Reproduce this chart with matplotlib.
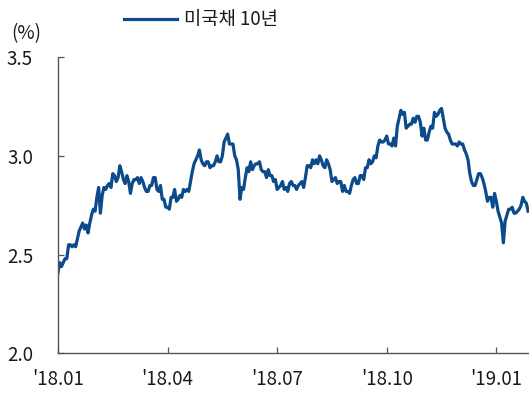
import numpy as np
import matplotlib.pyplot as plt
from matplotlib.ticker import FormatStrFormatter

plt.rcParams['font.family'] = ['Noto Sans CJK KR', 'DejaVu Sans']

# 미국채 10년 금리 (%), 영업일 기준
dec17 = [2.41]
jan18 = [2.46, 2.44, 2.46, 2.48, 2.48, 2.55, 2.55, 2.54, 2.55, 2.54, 2.58,
         2.62, 2.64, 2.66, 2.63, 2.65, 2.61, 2.66, 2.70, 2.73, 2.72]
feb18 = [2.79, 2.84, 2.71, 2.80, 2.84, 2.83, 2.85, 2.86, 2.84, 2.91, 2.90,
         2.87, 2.89, 2.95, 2.92, 2.88, 2.86, 2.90, 2.87]
mar18 = [2.81, 2.86, 2.88, 2.88, 2.89, 2.86, 2.89, 2.87, 2.84, 2.82, 2.82,
         2.85, 2.85, 2.89, 2.89, 2.83, 2.82, 2.85, 2.78, 2.78, 2.74, 2.74]
apr18 = [2.73, 2.79, 2.79, 2.83, 2.77, 2.78, 2.80, 2.79, 2.83, 2.82, 2.83,
         2.82, 2.87, 2.92, 2.96, 2.98, 3.00, 3.03, 2.98, 2.96, 2.95]
may18 = [2.97, 2.97, 2.94, 2.95, 2.95, 2.97, 3.00, 2.97, 2.97, 3.00, 3.07,
         3.09, 3.11, 3.06, 3.06, 3.06, 3.00, 2.98, 2.93, 2.78, 2.84, 2.83]
jun18 = [2.89, 2.94, 2.92, 2.97, 2.93, 2.95, 2.96, 2.96, 2.97, 2.93, 2.92,
         2.92, 2.89, 2.93, 2.90, 2.90, 2.87, 2.88, 2.83, 2.84, 2.85]
jul18 = [2.87, 2.83, 2.84, 2.82, 2.86, 2.87, 2.85, 2.85, 2.83, 2.85, 2.86,
         2.87, 2.84, 2.89, 2.95, 2.95, 2.94, 2.98, 2.96, 2.98, 2.96]
aug18 = [3.00, 2.98, 2.95, 2.94, 2.98, 2.96, 2.93, 2.87, 2.88, 2.89, 2.86,
         2.87, 2.87, 2.82, 2.85, 2.82, 2.82, 2.81, 2.85, 2.88, 2.89, 2.86, 2.86]
sep18 = [2.90, 2.90, 2.88, 2.94, 2.94, 2.98, 2.96, 2.97, 3.00, 2.99, 3.05,
         3.08, 3.07, 3.07, 3.08, 3.10, 3.06, 3.06, 3.05]
oct18 = [3.09, 3.05, 3.15, 3.19, 3.23, 3.21, 3.22, 3.14, 3.15, 3.16, 3.16,
         3.19, 3.17, 3.20, 3.20, 3.17, 3.10, 3.14, 3.08, 3.08, 3.12, 3.15]
nov18 = [3.14, 3.22, 3.20, 3.21, 3.23, 3.24, 3.19, 3.14, 3.12, 3.11, 3.08,
         3.06, 3.06, 3.06, 3.05, 3.07, 3.06, 3.06, 3.03, 3.01]
dec18 = [2.98, 2.91, 2.87, 2.85, 2.85, 2.88, 2.91, 2.91, 2.89, 2.86, 2.82,
         2.77, 2.79, 2.79, 2.74, 2.81, 2.77, 2.72, 2.69]
jan19 = [2.66, 2.56, 2.67, 2.70, 2.73, 2.73, 2.74, 2.71, 2.71, 2.72, 2.73,
         2.75, 2.79, 2.77, 2.76, 2.72]

yields = np.array(dec17 + jan18 + feb18 + mar18 + apr18 + may18 + jun18
                  + jul18 + aug18 + sep18 + oct18 + nov18 + dec18 + jan19)
x = np.arange(len(yields))

tick_labels = ["'18.01", "'18.04", "'18.07", "'18.10", "'19.01"]
tick_step = 62
y_ticks = [2.0, 2.5, 3.0, 3.5]

line_color = '#0b4a8b'
text_color = '#1a1a1a'
axis_color = '#555555'
fsize = 13.5

fig = plt.figure(figsize=(5.29, 3.94), dpi=100)
ax = fig.add_axes([0.1096, 0.1028, 0.8904, 0.7525])

ax.plot(x, yields, color=line_color, lw=2.3, solid_joinstyle='round',
        label='미국채 10년')

ax.set_xlim(0, len(yields) - 0.5)
ax.set_ylim(2.0, 3.5)
ax.set_xticks(np.arange(len(tick_labels)) * tick_step)
ax.set_xticklabels(tick_labels)
ax.set_yticks(y_ticks)
ax.yaxis.set_major_formatter(FormatStrFormatter('%.1f'))

for side in ['top', 'right']:
    ax.spines[side].set_visible(False)
for side in ['left', 'bottom']:
    ax.spines[side].set_color(axis_color)
    ax.spines[side].set_linewidth(1.0)

ax.tick_params(axis='both', direction='in', length=4.5, width=0.9,
               color=axis_color, labelsize=fsize, labelcolor=text_color)
ax.tick_params(axis='y', pad=18)
ax.tick_params(axis='x', pad=11)

fig.text(0.022, 0.915, '(%)', fontsize=fsize, color=text_color,
         ha='left', va='center')

fig.legend(loc='center left', bbox_to_anchor=(0.203, 0.95), frameon=False,
           fontsize=fsize, handlelength=2.8, handletextpad=0.4,
           labelcolor=text_color)

fig.savefig('out.png', dpi=100)
